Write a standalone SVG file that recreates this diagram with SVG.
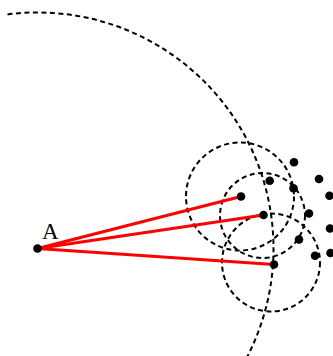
<svg xmlns="http://www.w3.org/2000/svg" width="333" height="356" viewBox="0 0 333 356">
<style>
.dash{fill:none;stroke:#000;stroke-width:2;stroke-dasharray:5 3.5}
.red{stroke:#ff0000;stroke-width:3;stroke-linecap:round}
.dot{fill:#000}
.lbl{font-family:"Liberation Serif","Times New Roman",serif;font-size:23px;fill:#000}
</style>
<rect width="333" height="356" fill="#fff"/>
<g id="circles">
<path id="big" class="dash" d="M7.5,14.4 A236,236 0 0 1 245.5,360"/>
<circle id="c1" class="dash" cx="240" cy="196.5" r="54"/>
<circle id="c2" class="dash" cx="262.5" cy="215.5" r="42.5"/>
<circle id="c3" class="dash" cx="271" cy="262.5" r="49"/>
</g>
<g id="connectors">
<line class="red" x1="37.5" y1="248.5" x2="241" y2="196.5"/>
<line class="red" x1="37.5" y1="248.5" x2="263.5" y2="215"/>
<line class="red" x1="37.5" y1="248.5" x2="274" y2="264.5"/>
</g>
<g id="A">
<circle class="dot" cx="37.5" cy="248.5" r="4.3"/>
<text class="lbl" x="42" y="239">A</text>
</g>
<g id="points">
<circle class="dot" cx="241" cy="196.5" r="4.3"/>
<circle class="dot" cx="263.5" cy="215" r="4.3"/>
<circle class="dot" cx="274" cy="264.5" r="4.3"/>
<circle class="dot" cx="294" cy="162.3" r="4.3"/>
<circle class="dot" cx="269.7" cy="180.8" r="4.3"/>
<circle class="dot" cx="293.5" cy="188.3" r="4.3"/>
<circle class="dot" cx="319" cy="179" r="4.3"/>
<circle class="dot" cx="329.5" cy="195.7" r="4.3"/>
<circle class="dot" cx="309" cy="213.5" r="4.3"/>
<circle class="dot" cx="330" cy="228.5" r="4.3"/>
<circle class="dot" cx="299" cy="239.5" r="4.3"/>
<circle class="dot" cx="315" cy="255.8" r="4.3"/>
<circle class="dot" cx="330.5" cy="253" r="4.3"/>
</g>
</svg>
